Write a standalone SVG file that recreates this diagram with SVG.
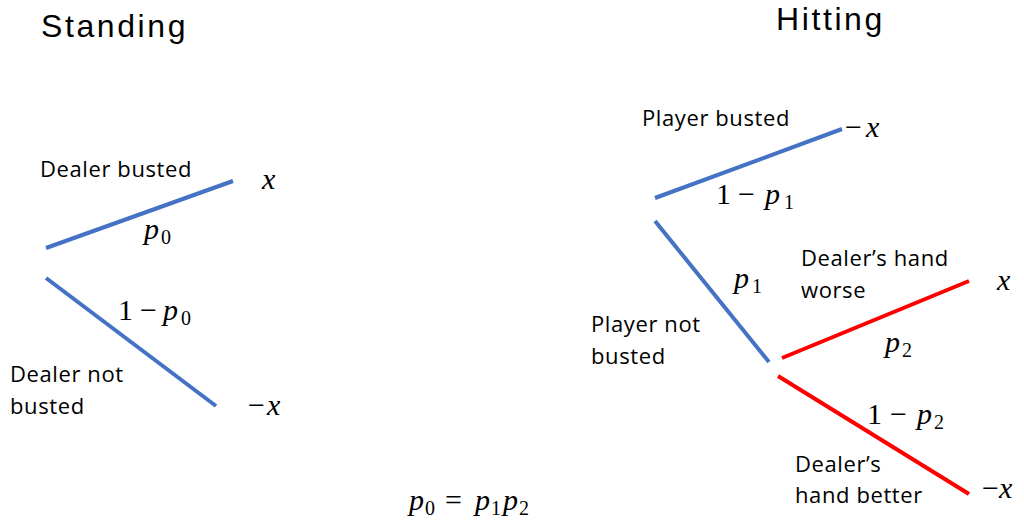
<svg xmlns="http://www.w3.org/2000/svg" width="1024" height="526" viewBox="0 0 1024 526">
<style>
.lbl{font-family:"Open Sans","Liberation Sans",sans-serif;font-size:22px;letter-spacing:0.6px;fill:#000}
.ttl{font-family:"Liberation Sans","Open Sans",sans-serif;font-size:32px;letter-spacing:2.6px;fill:#000}
.m{font-family:"Liberation Serif","DejaVu Serif",serif;font-size:30px;fill:#000}
.v{font-style:italic}
.s{font-size:20px}
.b{stroke:#4472C4;stroke-width:4;fill:none}
.r{stroke:#FF0000;stroke-width:4;fill:none}
</style>
<rect width="1024" height="526" fill="#fff"/>
<g id="titles">
<text class="ttl" x="41" y="37">Standing</text>
<text class="ttl" x="776" y="30">Hitting</text>
</g>
<g id="connectors">
<line class="b" x1="46" y1="248" x2="233" y2="181"/>
<line class="b" x1="46" y1="278" x2="216" y2="406"/>
<line class="b" x1="655" y1="198" x2="842" y2="129"/>
<line class="b" x1="655" y1="221" x2="769" y2="362"/>
<line class="r" x1="782" y1="358" x2="969" y2="281"/>
<line class="r" x1="778" y1="376" x2="969" y2="494"/>
</g>
<g id="standing-labels">
<text class="lbl" x="40" y="177">Dealer busted</text>
<text class="lbl" x="10" y="382">Dealer not</text>
<text class="lbl" x="10" y="414">busted</text>
<text class="m v" x="262" y="189">x</text>
<text class="m"><tspan class="v" x="144" y="239">p</tspan><tspan class="s" x="161" y="244">0</tspan></text>
<text class="m"><tspan x="118" y="320">1</tspan><tspan x="140" y="320">−</tspan><tspan class="v" x="163" y="320">p</tspan><tspan class="s" x="181" y="325">0</tspan></text>
<text class="m"><tspan x="248" y="415">−</tspan><tspan class="v" x="267" y="415">x</tspan></text>
</g>
<g id="hitting-labels">
<text class="lbl" x="642" y="126">Player busted</text>
<text class="m"><tspan x="845" y="137">−</tspan><tspan class="v" x="866" y="137">x</tspan></text>
<text class="m"><tspan x="716" y="204">1</tspan><tspan x="738" y="204">−</tspan><tspan class="v" x="765" y="204">p</tspan><tspan class="s" x="784" y="209">1</tspan></text>
<text class="m"><tspan class="v" x="734" y="288">p</tspan><tspan class="s" x="752" y="293">1</tspan></text>
<text class="lbl" x="591" y="332">Player not</text>
<text class="lbl" x="591" y="364">busted</text>
<text class="lbl" x="801" y="266">Dealer’s hand</text>
<text class="lbl" x="801" y="298">worse</text>
<text class="m v" x="997" y="290">x</text>
<text class="m"><tspan class="v" x="885" y="352">p</tspan><tspan class="s" x="902" y="357">2</tspan></text>
<text class="m"><tspan x="867" y="424">1</tspan><tspan x="890" y="424">−</tspan><tspan class="v" x="917" y="424">p</tspan><tspan class="s" x="934" y="429">2</tspan></text>
<text class="lbl" x="795" y="472">Dealer’s</text>
<text class="lbl" x="795" y="503">hand better</text>
<text class="m"><tspan x="982" y="498">−</tspan><tspan class="v" x="999" y="498">x</tspan></text>
</g>
<g id="equation">
<text class="m"><tspan class="v" x="409" y="510">p</tspan><tspan class="s" x="425" y="515">0</tspan><tspan x="445" y="510">=</tspan><tspan class="v" x="475" y="510">p</tspan><tspan class="s" x="491" y="515">1</tspan><tspan class="v" x="503" y="510">p</tspan><tspan class="s" x="519" y="515">2</tspan></text>
</g>
</svg>
